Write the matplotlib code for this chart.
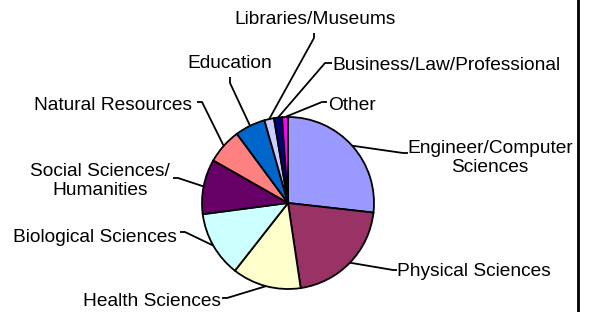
import numpy as np
import matplotlib.pyplot as plt

plt.rcParams['font.family'] = ['Liberation Sans', 'DejaVu Sans']

# shares of each field (percent)
fields = ['Engineer/Computer\nSciences', 'Physical Sciences', 'Health Sciences',
          'Biological Sciences', 'Social Sciences/\nHumanities', 'Natural Resources',
          'Education', 'Libraries/Museums', 'Business/Law/Professional', 'Other']
shares = [26.7, 20.8, 12.9, 12.3, 10.3, 6.6, 5.7, 1.8, 1.5, 1.1]
colors = ['#9999FF', '#993366', '#FFFFCC', '#CCFFFF', '#660066',
          '#FF8080', '#0066CC', '#CCCCFF', '#000080', '#FF00FF']

W, H = 589, 312
def Y(y):
    # pixel row -> data y (axes run bottom-up)
    return H - y

cx, cy, r = 288, Y(203), 86

# label layout: text anchor, alignment, and leader elbow points (pixels)
layout = [
    ((490, 158), 'center', [(403, 153), (408, 153)]),
    ((397, 272), 'left',   [(393, 270), (397, 270)]),
    ((221, 301), 'right',  [(227, 298), (222, 298)]),
    ((177, 237), 'right',  [(185, 232), (180, 232)]),
    ((100, 181), 'center', [(178, 178), (173, 178)]),
    ((192, 105), 'right',  [(202, 102), (197, 102)]),
    ((230, 64),  'center', [(230, 83), (230, 77)]),
    ((315, 20),  'center', [(314, 38), (314, 33)]),
    ((332, 65),  'left',   [(325, 63), (332, 63)]),
    ((328, 106), 'left',   [(322, 102), (327, 102)]),
]

fig = plt.figure(figsize=(W / 100, H / 100), dpi=100)
ax = fig.add_axes([0, 0, 1, 1])

wedges, _ = ax.pie(shares, colors=colors, startangle=90, counterclock=False,
                   center=(cx, cy), radius=r,
                   wedgeprops=dict(edgecolor='black', linewidth=1.3))

for w, name, (txy, ha, elbow) in zip(wedges, fields, layout):
    mid = np.deg2rad((w.theta1 + w.theta2) / 2)
    px = cx + r * np.cos(mid)
    py = cy + r * np.sin(mid)
    xs = [px] + [p[0] for p in elbow]
    ys = [py] + [Y(p[1]) for p in elbow]
    ax.plot(xs, ys, color='black', lw=1.3, solid_capstyle='butt')
    ax.text(txy[0], Y(txy[1]), name, ha=ha, va='center', fontsize=13.8,
            multialignment='center', linespacing=1.2)

# right frame edge
ax.plot([578, 578], [0, H], color='black', lw=2)

ax.set_xlim(0, W)
ax.set_ylim(0, H)
ax.set_aspect('auto')
ax.axis('off')

fig.savefig('out.png', dpi=100)
